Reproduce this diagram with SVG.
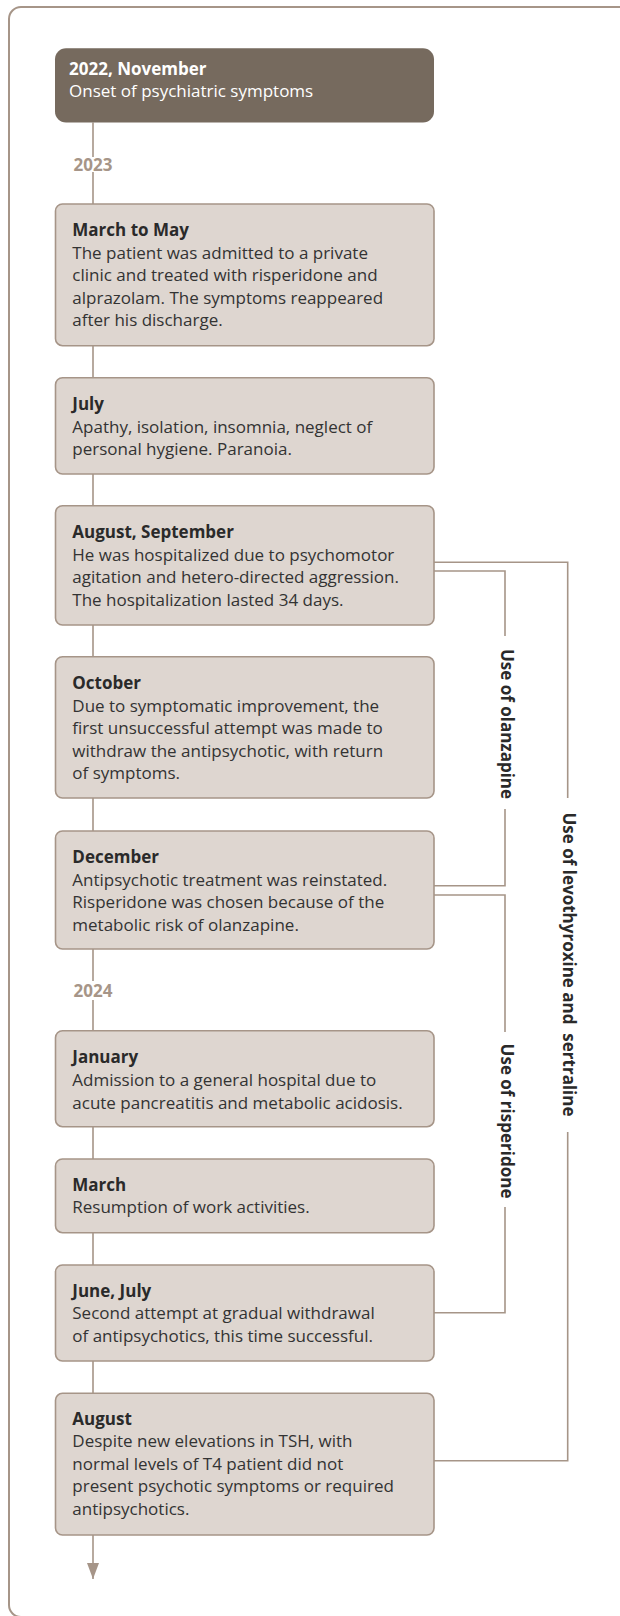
<svg xmlns="http://www.w3.org/2000/svg" width="620" height="1616" viewBox="0 0 620 1616">
<style>
text{font-family:"Open Sans","Noto Sans","Liberation Sans",sans-serif;font-size:17px;fill:#333}
.t{font-weight:bold;fill:#2a2a2a}
.w{fill:#ffffff}
.yr{font-weight:bold;fill:#a69588;text-anchor:middle}
.box{fill:#ded6d0;stroke:#a69588;stroke-width:1.6}
.dark{fill:#766a5e}
.ln{fill:none;stroke:#a69588;stroke-width:1.6}
.lbl{font-weight:bold;fill:#2a2a2a;text-anchor:middle;white-space:pre}
</style>
<defs>
<marker id="ah" markerWidth="16" markerHeight="12" refX="16" refY="6" orient="auto" markerUnits="userSpaceOnUse" viewBox="0 0 16 12">
<path d="M0,0 L16,6 L0,12 Z" fill="#a69588"/>
</marker>
</defs>
<rect x="9" y="7" width="630" height="1610" rx="12" fill="none" stroke="#a69588" stroke-width="2"/>
<g id="connectors">
<path class="ln" d="M93,122.5 V157 M93,172 V204 M93,345.7 V377.7 M93,474 V505.7 M93,625 V656.7 M93,798 V831 M93,949 V981 M93,1000 V1030.7 M93,1126.7 V1159 M93,1232.7 V1265 M93,1361 V1393.3"/>
<path class="ln" d="M93,1535 V1579" marker-end="url(#ah)"/>
<path class="ln" d="M434,571 H505 V636 M505,809 V885.7 H434"/>
<path class="ln" d="M434,895 H505 V1032 M505,1207 V1312.7 H434"/>
<path class="ln" d="M434,562.3 H567.7 V798 M567.7,1132 V1460.7 H434"/>
<text class="yr" x="93" y="170.5">2023</text>
<text class="yr" x="93" y="997.3">2024</text>
<text class="lbl" transform="translate(500.5,724) rotate(90)">Use of olanzapine</text>
<text class="lbl" transform="translate(500.5,1121) rotate(90)">Use of risperidone</text>
<text class="lbl" transform="translate(563,964.5) rotate(90)">Use of levothyroxine and  sertraline</text>
</g>
<g id="n0">
<rect class="dark" x="55" y="48.3" width="379" height="74.2" rx="11"/>
<text class="t w" x="69" y="75">2022, November</text>
<text class="w" x="69" y="97.3">Onset of psychiatric symptoms</text>
</g>
<g id="n1">
<rect class="box" x="55.5" y="204" width="378.5" height="141.7" rx="7"/>
<text class="t" x="72.3" y="235.7">March to May</text>
<text x="72.3" y="258.7">The patient was admitted to a private</text>
<text x="72.3" y="281.2">clinic and treated with risperidone and</text>
<text x="72.3" y="303.7">alprazolam. The symptoms reappeared</text>
<text x="72.3" y="326.2">after his discharge.</text>
</g>
<g id="n2">
<rect class="box" x="55.5" y="377.7" width="378.5" height="96.3" rx="7"/>
<text class="t" x="72.3" y="410">July</text>
<text x="72.3" y="432.7">Apathy, isolation, insomnia, neglect of</text>
<text x="72.3" y="455.2">personal hygiene. Paranoia.</text>
</g>
<g id="n3">
<rect class="box" x="55.5" y="505.7" width="378.5" height="119.3" rx="7"/>
<text class="t" x="72.3" y="537.7">August, September</text>
<text x="72.3" y="560.7">He was hospitalized due to psychomotor</text>
<text x="72.3" y="583.2">agitation and hetero-directed aggression.</text>
<text x="72.3" y="605.7">The hospitalization lasted 34 days.</text>
</g>
<g id="n4">
<rect class="box" x="55.5" y="656.7" width="378.5" height="141.3" rx="7"/>
<text class="t" x="72.3" y="689">October</text>
<text x="72.3" y="711.7">Due to symptomatic improvement, the</text>
<text x="72.3" y="734.2">first unsuccessful attempt was made to</text>
<text x="72.3" y="756.7">withdraw the antipsychotic, with return</text>
<text x="72.3" y="779.2">of symptoms.</text>
</g>
<g id="n5">
<rect class="box" x="55.5" y="831" width="378.5" height="118" rx="7"/>
<text class="t" x="72.3" y="862.5">December</text>
<text x="72.3" y="885.5">Antipsychotic treatment was reinstated.</text>
<text x="72.3" y="908">Risperidone was chosen because of the</text>
<text x="72.3" y="930.5">metabolic risk of olanzapine.</text>
</g>
<g id="n6">
<rect class="box" x="55.5" y="1030.7" width="378.5" height="96" rx="7"/>
<text class="t" x="72.3" y="1063.3">January</text>
<text x="72.3" y="1086">Admission to a general hospital due to</text>
<text x="72.3" y="1108.5">acute pancreatitis and metabolic acidosis.</text>
</g>
<g id="n7">
<rect class="box" x="55.5" y="1159" width="378.5" height="73.7" rx="7"/>
<text class="t" x="72.3" y="1190.7">March</text>
<text x="72.3" y="1213.3">Resumption of work activities.</text>
</g>
<g id="n8">
<rect class="box" x="55.5" y="1265" width="378.5" height="96" rx="7"/>
<text class="t" x="72.3" y="1296.7">June, July</text>
<text x="72.3" y="1319.3">Second attempt at gradual withdrawal</text>
<text x="72.3" y="1341.8">of antipsychotics, this time successful.</text>
</g>
<g id="n9">
<rect class="box" x="55.5" y="1393.3" width="378.5" height="141.7" rx="7"/>
<text class="t" x="72.3" y="1424.5">August</text>
<text x="72.3" y="1447">Despite new elevations in TSH, with</text>
<text x="72.3" y="1469.5">normal levels of T4 patient did not</text>
<text x="72.3" y="1492">present psychotic symptoms or required</text>
<text x="72.3" y="1514.5">antipsychotics.</text>
</g>
</svg>
